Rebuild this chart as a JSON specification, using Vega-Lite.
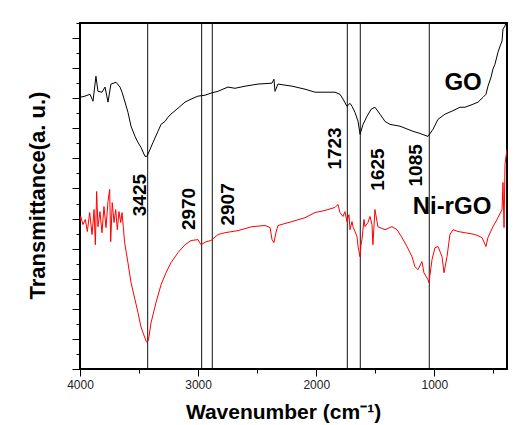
{
  "$schema": "https://vega.github.io/schema/vega-lite/v6.json",
  "width": 427,
  "height": 346,
  "autosize": "none",
  "padding": {"left": 80, "top": 23, "right": 13, "bottom": 56},
  "background": "white",
  "config": {
    "view": {"stroke": "#000", "strokeWidth": 2},
    "font": "Liberation Sans"
  },
  "resolve": {"axis": {"x": "independent", "y": "independent"}},
  "datasets": {
    "spectra": [
      {"s": "GO", "wn": 4000, "t": 9.03}, {"s": "GO", "wn": 3958, "t": 9.07}, {"s": "GO", "wn": 3915, "t": 9.13},
      {"s": "GO", "wn": 3890, "t": 8.90}, {"s": "GO", "wn": 3865, "t": 9.73}, {"s": "GO", "wn": 3848, "t": 9.23},
      {"s": "GO", "wn": 3814, "t": 9.20}, {"s": "GO", "wn": 3788, "t": 9.37}, {"s": "GO", "wn": 3763, "t": 8.87},
      {"s": "GO", "wn": 3738, "t": 9.47}, {"s": "GO", "wn": 3695, "t": 9.53}, {"s": "GO", "wn": 3661, "t": 9.37},
      {"s": "GO", "wn": 3644, "t": 9.20}, {"s": "GO", "wn": 3619, "t": 8.87}, {"s": "GO", "wn": 3594, "t": 8.53},
      {"s": "GO", "wn": 3568, "t": 8.07}, {"s": "GO", "wn": 3534, "t": 7.73}, {"s": "GO", "wn": 3509, "t": 7.53},
      {"s": "GO", "wn": 3484, "t": 7.37}, {"s": "GO", "wn": 3450, "t": 7.07}, {"s": "GO", "wn": 3433, "t": 7.07},
      {"s": "GO", "wn": 3407, "t": 7.30}, {"s": "GO", "wn": 3382, "t": 7.53}, {"s": "GO", "wn": 3340, "t": 7.90},
      {"s": "GO", "wn": 3314, "t": 8.13}, {"s": "GO", "wn": 3280, "t": 8.23}, {"s": "GO", "wn": 3255, "t": 8.37},
      {"s": "GO", "wn": 3230, "t": 8.47}, {"s": "GO", "wn": 3170, "t": 8.67}, {"s": "GO", "wn": 3111, "t": 8.87},
      {"s": "GO", "wn": 3060, "t": 8.97}, {"s": "GO", "wn": 3001, "t": 9.07}, {"s": "GO", "wn": 2942, "t": 9.10},
      {"s": "GO", "wn": 2891, "t": 9.17}, {"s": "GO", "wn": 2832, "t": 9.23}, {"s": "GO", "wn": 2772, "t": 9.33},
      {"s": "GO", "wn": 2747, "t": 9.37}, {"s": "GO", "wn": 2688, "t": 9.33}, {"s": "GO", "wn": 2603, "t": 9.40},
      {"s": "GO", "wn": 2493, "t": 9.47}, {"s": "GO", "wn": 2375, "t": 9.50}, {"s": "GO", "wn": 2358, "t": 9.63},
      {"s": "GO", "wn": 2349, "t": 9.23}, {"s": "GO", "wn": 2324, "t": 9.47}, {"s": "GO", "wn": 2205, "t": 9.40},
      {"s": "GO", "wn": 2095, "t": 9.30}, {"s": "GO", "wn": 2010, "t": 9.20}, {"s": "GO", "wn": 1926, "t": 9.20},
      {"s": "GO", "wn": 1841, "t": 9.20}, {"s": "GO", "wn": 1799, "t": 9.13}, {"s": "GO", "wn": 1773, "t": 8.97},
      {"s": "GO", "wn": 1740, "t": 8.73}, {"s": "GO", "wn": 1714, "t": 8.83}, {"s": "GO", "wn": 1697, "t": 8.73},
      {"s": "GO", "wn": 1672, "t": 8.53}, {"s": "GO", "wn": 1646, "t": 8.23}, {"s": "GO", "wn": 1629, "t": 7.80},
      {"s": "GO", "wn": 1604, "t": 8.13}, {"s": "GO", "wn": 1570, "t": 8.40}, {"s": "GO", "wn": 1536, "t": 8.63},
      {"s": "GO", "wn": 1503, "t": 8.70}, {"s": "GO", "wn": 1460, "t": 8.47}, {"s": "GO", "wn": 1418, "t": 8.23},
      {"s": "GO", "wn": 1376, "t": 8.13}, {"s": "GO", "wn": 1291, "t": 8.07}, {"s": "GO", "wn": 1181, "t": 7.90},
      {"s": "GO", "wn": 1122, "t": 7.83}, {"s": "GO", "wn": 1054, "t": 7.73}, {"s": "GO", "wn": 1011, "t": 7.97},
      {"s": "GO", "wn": 969, "t": 8.30}, {"s": "GO", "wn": 910, "t": 8.47}, {"s": "GO", "wn": 851, "t": 8.57},
      {"s": "GO", "wn": 783, "t": 8.70}, {"s": "GO", "wn": 741, "t": 8.70}, {"s": "GO", "wn": 673, "t": 8.80},
      {"s": "GO", "wn": 630, "t": 8.87}, {"s": "GO", "wn": 588, "t": 9.03}, {"s": "GO", "wn": 563, "t": 9.13},
      {"s": "GO", "wn": 546, "t": 9.40}, {"s": "GO", "wn": 520, "t": 9.70}, {"s": "GO", "wn": 504, "t": 9.97},
      {"s": "GO", "wn": 487, "t": 10.13}, {"s": "GO", "wn": 461, "t": 10.53}, {"s": "GO", "wn": 444, "t": 10.73},
      {"s": "GO", "wn": 427, "t": 10.90}, {"s": "GO", "wn": 419, "t": 11.30}, {"s": "GO", "wn": 402, "t": 11.40},
      {"s": "GO", "wn": 393, "t": 11.53},

      {"s": "Ni-rGO", "wn": 4000, "t": 4.90}, {"s": "Ni-rGO", "wn": 3994, "t": 5.07}, {"s": "Ni-rGO", "wn": 3975, "t": 4.80},
      {"s": "Ni-rGO", "wn": 3955, "t": 4.97}, {"s": "Ni-rGO", "wn": 3938, "t": 4.57}, {"s": "Ni-rGO", "wn": 3918, "t": 5.20},
      {"s": "Ni-rGO", "wn": 3898, "t": 4.47}, {"s": "Ni-rGO", "wn": 3881, "t": 5.30}, {"s": "Ni-rGO", "wn": 3870, "t": 4.13},
      {"s": "Ni-rGO", "wn": 3859, "t": 5.90}, {"s": "Ni-rGO", "wn": 3848, "t": 4.73}, {"s": "Ni-rGO", "wn": 3831, "t": 5.23},
      {"s": "Ni-rGO", "wn": 3814, "t": 4.53}, {"s": "Ni-rGO", "wn": 3797, "t": 5.40}, {"s": "Ni-rGO", "wn": 3780, "t": 4.70},
      {"s": "Ni-rGO", "wn": 3763, "t": 5.57}, {"s": "Ni-rGO", "wn": 3749, "t": 5.97}, {"s": "Ni-rGO", "wn": 3740, "t": 4.23},
      {"s": "Ni-rGO", "wn": 3727, "t": 5.53}, {"s": "Ni-rGO", "wn": 3712, "t": 4.87}, {"s": "Ni-rGO", "wn": 3698, "t": 5.30},
      {"s": "Ni-rGO", "wn": 3684, "t": 4.63}, {"s": "Ni-rGO", "wn": 3670, "t": 5.23}, {"s": "Ni-rGO", "wn": 3655, "t": 4.87},
      {"s": "Ni-rGO", "wn": 3644, "t": 5.20}, {"s": "Ni-rGO", "wn": 3633, "t": 4.70}, {"s": "Ni-rGO", "wn": 3622, "t": 4.20},
      {"s": "Ni-rGO", "wn": 3594, "t": 3.53}, {"s": "Ni-rGO", "wn": 3568, "t": 2.87}, {"s": "Ni-rGO", "wn": 3534, "t": 2.30},
      {"s": "Ni-rGO", "wn": 3509, "t": 1.87}, {"s": "Ni-rGO", "wn": 3484, "t": 1.40}, {"s": "Ni-rGO", "wn": 3450, "t": 1.03},
      {"s": "Ni-rGO", "wn": 3437, "t": 0.90}, {"s": "Ni-rGO", "wn": 3424, "t": 0.93}, {"s": "Ni-rGO", "wn": 3416, "t": 1.07},
      {"s": "Ni-rGO", "wn": 3399, "t": 1.53}, {"s": "Ni-rGO", "wn": 3357, "t": 2.20}, {"s": "Ni-rGO", "wn": 3314, "t": 2.80},
      {"s": "Ni-rGO", "wn": 3272, "t": 3.20}, {"s": "Ni-rGO", "wn": 3230, "t": 3.53}, {"s": "Ni-rGO", "wn": 3170, "t": 3.87},
      {"s": "Ni-rGO", "wn": 3111, "t": 4.13}, {"s": "Ni-rGO", "wn": 3060, "t": 4.27}, {"s": "Ni-rGO", "wn": 3001, "t": 4.30},
      {"s": "Ni-rGO", "wn": 2976, "t": 4.13}, {"s": "Ni-rGO", "wn": 2933, "t": 4.23}, {"s": "Ni-rGO", "wn": 2891, "t": 4.27},
      {"s": "Ni-rGO", "wn": 2832, "t": 4.47}, {"s": "Ni-rGO", "wn": 2772, "t": 4.53}, {"s": "Ni-rGO", "wn": 2662, "t": 4.60},
      {"s": "Ni-rGO", "wn": 2544, "t": 4.73}, {"s": "Ni-rGO", "wn": 2434, "t": 4.77}, {"s": "Ni-rGO", "wn": 2391, "t": 4.70},
      {"s": "Ni-rGO", "wn": 2374, "t": 4.30}, {"s": "Ni-rGO", "wn": 2358, "t": 4.20}, {"s": "Ni-rGO", "wn": 2341, "t": 4.53},
      {"s": "Ni-rGO", "wn": 2324, "t": 4.77}, {"s": "Ni-rGO", "wn": 2205, "t": 4.90}, {"s": "Ni-rGO", "wn": 2095, "t": 5.03},
      {"s": "Ni-rGO", "wn": 2010, "t": 5.20}, {"s": "Ni-rGO", "wn": 1926, "t": 5.27}, {"s": "Ni-rGO", "wn": 1841, "t": 5.37},
      {"s": "Ni-rGO", "wn": 1816, "t": 5.47}, {"s": "Ni-rGO", "wn": 1799, "t": 5.20}, {"s": "Ni-rGO", "wn": 1774, "t": 5.07},
      {"s": "Ni-rGO", "wn": 1757, "t": 5.23}, {"s": "Ni-rGO", "wn": 1740, "t": 4.90}, {"s": "Ni-rGO", "wn": 1723, "t": 5.13},
      {"s": "Ni-rGO", "wn": 1714, "t": 4.63}, {"s": "Ni-rGO", "wn": 1697, "t": 4.90}, {"s": "Ni-rGO", "wn": 1689, "t": 4.73},
      {"s": "Ni-rGO", "wn": 1672, "t": 4.57}, {"s": "Ni-rGO", "wn": 1655, "t": 4.40}, {"s": "Ni-rGO", "wn": 1646, "t": 4.07},
      {"s": "Ni-rGO", "wn": 1629, "t": 3.73}, {"s": "Ni-rGO", "wn": 1621, "t": 4.13}, {"s": "Ni-rGO", "wn": 1613, "t": 4.30},
      {"s": "Ni-rGO", "wn": 1596, "t": 4.97}, {"s": "Ni-rGO", "wn": 1587, "t": 4.73}, {"s": "Ni-rGO", "wn": 1562, "t": 4.87},
      {"s": "Ni-rGO", "wn": 1545, "t": 5.07}, {"s": "Ni-rGO", "wn": 1528, "t": 4.80}, {"s": "Ni-rGO", "wn": 1520, "t": 4.13},
      {"s": "Ni-rGO", "wn": 1503, "t": 5.30}, {"s": "Ni-rGO", "wn": 1478, "t": 4.73}, {"s": "Ni-rGO", "wn": 1418, "t": 4.63},
      {"s": "Ni-rGO", "wn": 1359, "t": 4.73}, {"s": "Ni-rGO", "wn": 1316, "t": 4.63}, {"s": "Ni-rGO", "wn": 1274, "t": 4.37},
      {"s": "Ni-rGO", "wn": 1232, "t": 4.07}, {"s": "Ni-rGO", "wn": 1189, "t": 3.73}, {"s": "Ni-rGO", "wn": 1164, "t": 3.40},
      {"s": "Ni-rGO", "wn": 1139, "t": 3.30}, {"s": "Ni-rGO", "wn": 1105, "t": 3.57}, {"s": "Ni-rGO", "wn": 1088, "t": 3.20},
      {"s": "Ni-rGO", "wn": 1054, "t": 2.97}, {"s": "Ni-rGO", "wn": 1046, "t": 2.87}, {"s": "Ni-rGO", "wn": 1020, "t": 3.63},
      {"s": "Ni-rGO", "wn": 995, "t": 4.03}, {"s": "Ni-rGO", "wn": 969, "t": 4.07}, {"s": "Ni-rGO", "wn": 935, "t": 3.73},
      {"s": "Ni-rGO", "wn": 918, "t": 3.20}, {"s": "Ni-rGO", "wn": 893, "t": 3.73}, {"s": "Ni-rGO", "wn": 868, "t": 4.47},
      {"s": "Ni-rGO", "wn": 842, "t": 4.63}, {"s": "Ni-rGO", "wn": 800, "t": 4.57}, {"s": "Ni-rGO", "wn": 741, "t": 4.53},
      {"s": "Ni-rGO", "wn": 656, "t": 4.47}, {"s": "Ni-rGO", "wn": 597, "t": 4.37}, {"s": "Ni-rGO", "wn": 563, "t": 4.07},
      {"s": "Ni-rGO", "wn": 546, "t": 4.37}, {"s": "Ni-rGO", "wn": 504, "t": 4.73}, {"s": "Ni-rGO", "wn": 461, "t": 5.03},
      {"s": "Ni-rGO", "wn": 427, "t": 5.30}, {"s": "Ni-rGO", "wn": 419, "t": 6.20}, {"s": "Ni-rGO", "wn": 410, "t": 4.70},
      {"s": "Ni-rGO", "wn": 402, "t": 6.80}, {"s": "Ni-rGO", "wn": 393, "t": 7.07}, {"s": "Ni-rGO", "wn": 385, "t": 7.30}
    ],
    "peaks": [
      {"line": 3427, "label": "3425", "lx": 3496, "ly": 5.78},
      {"line": 2970, "label": "2970", "lx": 3081, "ly": 5.32},
      {"line": 2880, "label": "2907", "lx": 2747, "ly": 5.47},
      {"line": 1737, "label": "1723", "lx": 1841, "ly": 7.33},
      {"line": 1627, "label": "1625", "lx": 1477, "ly": 6.63},
      {"line": 1043, "label": "1085", "lx": 1155, "ly": 6.77}
    ],
    "names": [
      {"name": "GO", "nx": 757, "ny": 9.5},
      {"name": "Ni-rGO", "nx": 851, "ny": 5.4}
    ]
  },
  "layer": [
    {
      "data": {"name": "peaks"},
      "mark": {"type": "rule", "color": "#111", "strokeWidth": 1},
      "encoding": {
        "x": {
          "field": "line", "type": "quantitative",
          "scale": {"domain": [385, 4000], "reverse": true, "nice": false, "zero": false},
          "axis": {
            "orient": "bottom",
            "title": null,
            "values": [3500, 2500, 1500, 500],
            "labels": false,
            "domain": false,
            "grid": false,
            "tickColor": "#000",
            "tickSize": 4
          }
        },
        "y": {
          "datum": 0, "type": "quantitative",
          "scale": {"domain": [0, 11.5], "nice": false, "zero": false},
          "axis": {
            "orient": "left",
            "title": null,
            "values": [0.5, 1.5, 2.5, 3.5, 4.5, 5.5, 6.5, 7.5, 8.5, 9.5, 10.5, 11.5],
            "labels": false,
            "domain": false,
            "grid": false,
            "tickColor": "#000",
            "tickSize": 4
          }
        },
        "y2": {"datum": 11.5}
      }
    },
    {
      "data": {"name": "spectra"},
      "mark": {"type": "line", "strokeWidth": 1, "clip": true},
      "encoding": {
        "x": {
          "field": "wn", "type": "quantitative",
          "scale": {"domain": [385, 4000], "reverse": true, "nice": false, "zero": false},
          "axis": {
            "orient": "bottom",
            "title": "Wavenumber (cm⁻¹)",
            "values": [4000, 3000, 2000, 1000],
            "format": "d",
            "labelFlush": false,
            "labelOverlap": false,
            "domain": false,
            "grid": false,
            "tickColor": "#000",
            "tickSize": 7,
            "labelFont": "Liberation Sans",
            "labelFontSize": 12,
            "labelColor": "#222",
            "labelPadding": 3,
            "titleFont": "Liberation Sans",
            "titleFontSize": 21,
            "titleFontWeight": "bold",
            "titleColor": "#000",
            "titleX": 203,
            "titleY": 49,
            "titleAlign": "center",
            "titleBaseline": "alphabetic"
          }
        },
        "y": {
          "field": "t", "type": "quantitative",
          "scale": {"domain": [0, 11.5], "nice": false, "zero": false},
          "axis": {
            "orient": "left",
            "title": "Transmittance(a. u.)",
            "values": [0, 1, 2, 3, 4, 5, 6, 7, 8, 9, 10, 11],
            "labels": false,
            "domain": false,
            "grid": false,
            "tickColor": "#000",
            "tickSize": 8,
            "titleFont": "Liberation Sans",
            "titleFontSize": 22,
            "titleFontWeight": "bold",
            "titleColor": "#000",
            "titleAngle": 270,
            "titleX": -43,
            "titleY": 172,
            "titleAlign": "center",
            "titleBaseline": "middle"
          }
        },
        "color": {
          "field": "s", "type": "nominal",
          "scale": {"domain": ["GO", "Ni-rGO"], "range": ["#000000", "#ff0000"]},
          "legend": null
        }
      }
    },
    {
      "data": {"name": "peaks"},
      "mark": {"type": "text", "angle": 270, "align": "center", "baseline": "middle", "font": "Liberation Sans", "fontWeight": "bold", "fontSize": 19, "color": "#000"},
      "encoding": {
        "x": {"field": "lx", "type": "quantitative", "axis": null},
        "y": {"field": "ly", "type": "quantitative", "axis": null},
        "text": {"field": "label"}
      }
    },
    {
      "data": {"name": "names"},
      "mark": {"type": "text", "align": "center", "baseline": "middle", "font": "Liberation Sans", "fontWeight": "bold", "fontSize": 24, "color": "#000"},
      "encoding": {
        "x": {"field": "nx", "type": "quantitative", "axis": null},
        "y": {"field": "ny", "type": "quantitative", "axis": null},
        "text": {"field": "name"}
      }
    }
  ]
}
